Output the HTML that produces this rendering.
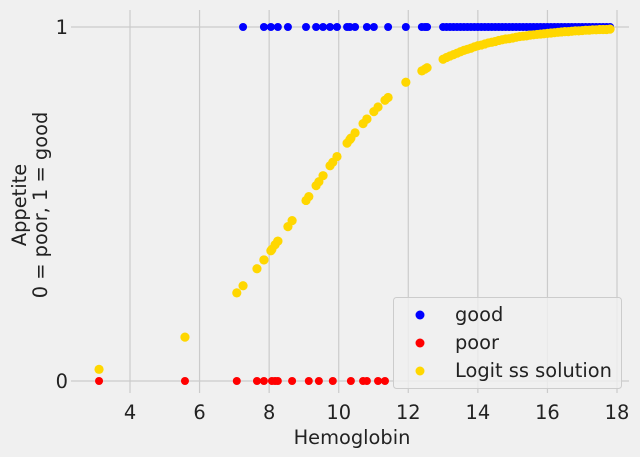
<!DOCTYPE html>
<html><head><meta charset="utf-8"><style>
html,body{margin:0;padding:0;background:#f0f0f0;}
svg{display:block;font-family:"DejaVu Sans","Liberation Sans",sans-serif;}
</style></head><body>
<svg id="chart" width="640" height="457" viewBox="0 0 640 457" xmlns="http://www.w3.org/2000/svg">
<rect x="0" y="0" width="640" height="457" fill="#f0f0f0"/>
<g id="grid"></g>
<g id="marks"></g>
<g id="axes"></g>
<text x="352" y="444" font-size="19.4" text-anchor="middle" fill="#222">Hemoglobin</text>
<text transform="translate(26,205) rotate(-90)" font-size="19.4" text-anchor="middle" fill="#222">Appetite</text>
<text transform="translate(47,205) rotate(-90)" font-size="19.4" text-anchor="middle" fill="#222">0 = poor, 1 = good</text>
<g>
<rect x="393.5" y="297.5" width="228" height="91" rx="3" fill="#f0f0f0" fill-opacity="0.8" stroke="#cccccc"/>
<g><circle cx="420" cy="315" r="4.5" fill="#0000ff"/><text x="455" y="321" font-size="19.4" fill="#222">good</text></g>
<g><circle cx="420" cy="343" r="4.5" fill="#ff0000"/><text x="455" y="349" font-size="19.4" fill="#222">poor</text></g>
<g><circle cx="420" cy="371" r="4.5" fill="#ffd700"/><text x="455" y="377" font-size="19.4" fill="#222">Logit ss solution</text></g>
</g>
</svg>
<script>
const xTicks = [4, 6, 8, 10, 12, 14, 16, 18];
const yTicks = [0, 1];
const poorHb = [3.11, 5.58, 7.07, 7.65, 7.85, 8.08, 8.17, 8.25, 8.66, 9.14, 9.43, 9.83, 10.35, 10.70, 10.81, 11.13, 11.33];
const poorFit = [0.033, 0.124, 0.249, 0.317, 0.342, 0.372, 0.385, 0.395, 0.453, 0.521, 0.563, 0.618, 0.686, 0.727, 0.740, 0.774, 0.793];
const goodHb = [7.25, 7.85, 8.05, 8.25, 8.54, 9.06, 9.35, 9.55, 9.75, 9.95, 10.24, 10.32, 10.47, 10.81, 11.01, 11.42, 11.93, 12.39, 12.48, 12.54,
  13.0, 13.2, 13.4, 13.6, 13.8, 14.0, 14.2, 14.4, 14.6, 14.8, 15.0, 15.2, 15.4, 15.6, 15.8, 16.0, 16.2, 16.4, 16.6, 16.8, 17.0, 17.2, 17.4, 17.6, 17.8,
  13.1, 13.3, 13.5, 13.7, 13.9, 14.1, 14.3, 14.5, 14.7, 14.9, 15.1, 15.3, 15.5, 15.7, 15.9, 16.1, 16.3, 16.5, 16.7, 16.9, 17.1, 17.3, 17.5, 17.7];
const goodFit = [0.269, 0.342, 0.368, 0.395, 0.436, 0.510, 0.552, 0.580, 0.608, 0.634, 0.672, 0.682, 0.701, 0.740, 0.761, 0.801, 0.844, 0.876, 0.881, 0.885,
  0.909, 0.918, 0.926, 0.934, 0.940, 0.947, 0.952, 0.957, 0.962, 0.966, 0.969, 0.973, 0.975, 0.978, 0.980, 0.982, 0.984, 0.986, 0.987, 0.989, 0.990, 0.991, 0.992, 0.993, 0.994,
  0.914, 0.922, 0.930, 0.937, 0.944, 0.949, 0.955, 0.959, 0.964, 0.967, 0.971, 0.974, 0.977, 0.979, 0.981, 0.983, 0.985, 0.987, 0.988, 0.989, 0.991, 0.992, 0.993, 0.993];

const NS = "http://www.w3.org/2000/svg";
const X = v => 130 + (v - 4) * (617 - 130) / 14;
const Y = v => 381 - v * 354;
const grid = document.getElementById('grid');
const marks = document.getElementById('marks');
const axes = document.getElementById('axes');
function mk(tag, attrs, parent) {
  const e = document.createElementNS(NS, tag);
  for (const k in attrs) e.setAttribute(k, attrs[k]);
  parent.appendChild(e);
  return e;
}
xTicks.forEach(t => {
  const l = mk('line', {x1: X(t), x2: X(t), y1: 10, y2: 393, stroke: '#cbcbcb', 'stroke-width': 1.2}, grid);
  
  
  const tx = mk('text', {x: X(t), y: 419, 'font-size': 19.4, 'text-anchor': 'middle', fill: '#222'}, axes);
  tx.textContent = t;
  
  
});
yTicks.forEach(t => {
  const l = mk('line', {x1: 71, x2: 629, y1: Y(t), y2: Y(t), stroke: '#cbcbcb', 'stroke-width': 1.2}, grid);
  
  
  const tx = mk('text', {x: 68, y: Y(t) + 7, 'font-size': 19.4, 'text-anchor': 'end', fill: '#222'}, axes);
  tx.textContent = t;
  
  
});
goodHb.forEach(v => {
  const c = mk('circle', {cx: X(v), cy: Y(1), r: 4, fill: '#0000ff'}, marks);
  
  
});
poorHb.forEach(v => {
  const c = mk('circle', {cx: X(v), cy: Y(0), r: 4, fill: '#ff0000'}, marks);
  
  
});
poorHb.forEach((v, i) => {
  const c = mk('circle', {cx: X(v), cy: Y(poorFit[i]), r: 4.6, fill: '#ffd700'}, marks);
  
  
});
goodHb.forEach((v, i) => {
  const c = mk('circle', {cx: X(v), cy: Y(goodFit[i]), r: 4.6, fill: '#ffd700'}, marks);
  
  
});
</script>
</body></html>
